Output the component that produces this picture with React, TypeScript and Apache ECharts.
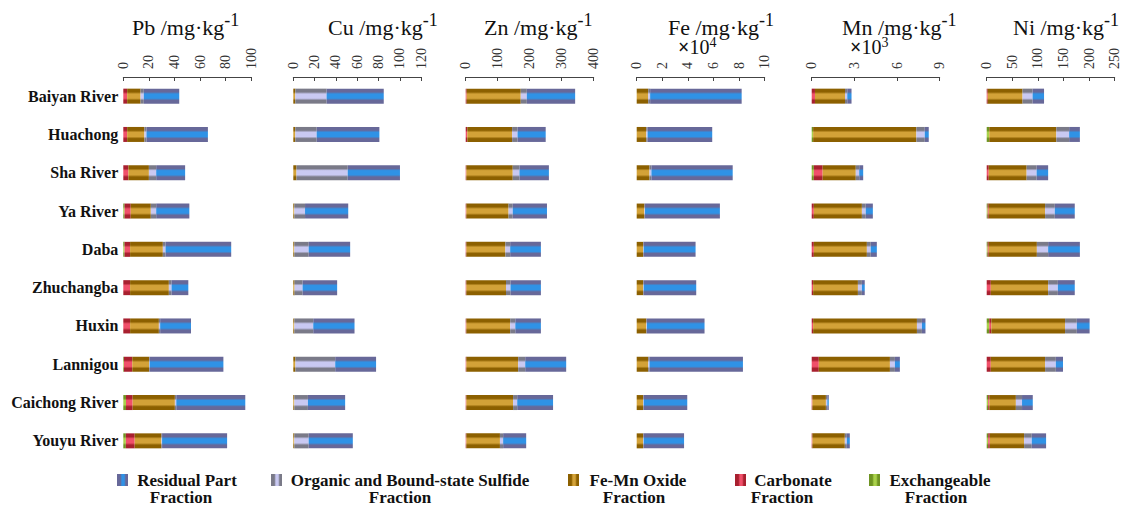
import React, { useEffect, useRef } from "react";
import * as echarts from "echarts";

const categories = [
  "Baiyan River", "Huachong", "Sha River", "Ya River", "Daba",
  "Zhuchangba", "Huxin", "Lannigou", "Caichong River", "Youyu River",
];

const fractionKeys = ["exch", "carb", "femn", "org", "res"];
const fractionNames = [
  "Exchangeable Fraction",
  "Carbonate Fraction",
  "Fe-Mn Oxide Fraction",
  "Organic and Bound-state Sulfide Fraction",
  "Residual Part Fraction",
];

const elements = ["Pb", "Cu", "Zn", "Fe", "Mn", "Ni"];
const axisMax = [100, 120, 400, 10, 9, 250];
const axisInterval = [20, 20, 100, 2, 3, 50];
const multipliers = ["", "", "", "4", "3", ""];

// Pb (mg/kg)
const pbExch = [0, 0, 0, 1, 1, 0, 0, 0.5, 2.1, 2];
const pbCarb = [3, 3, 4, 4.8, 4.3, 5.3, 5.3, 6.5, 5.2, 6.9];
const pbFeMn = [10.5, 13.5, 16, 15.7, 25.6, 30.3, 22.5, 13.1, 33, 20.9];
const pbOrg = [2.5, 1.6, 5.7, 4.2, 2.1, 2.1, 1, 0.5, 1.1, 0.5];
const pbRes = [27.7, 48, 22.6, 25.9, 51.3, 13.1, 24.1, 57.6, 53.9, 50.8];

// Cu (mg/kg)
const cuExch = [0, 0, 0, 0, 0, 0, 0, 0, 0, 0];
const cuCarb = [0, 0, 0, 0, 0, 0, 0, 0, 0, 0];
const cuFeMn = [1.9, 1.9, 3, 1, 1, 1.2, 1, 2, 1, 1];
const cuOrg = [29.3, 20, 48, 10, 13.4, 7.5, 17.7, 37.3, 12.7, 13.4];
const cuRes = [53.6, 58.8, 49, 40.5, 38.9, 32.4, 38.7, 38.3, 34.9, 41.4];

// Zn (mg/kg)
const znExch = [0, 0, 0, 0, 0, 0, 0, 0, 0, 0];
const znCarb = [3, 5, 2, 2, 2, 2, 2, 2, 2, 2];
const znFeMn = [169, 140, 145, 132, 122, 124, 137, 162, 146, 105];
const znOrg = [19, 17, 21, 13, 15, 14, 16, 22, 13, 10];
const znRes = [151, 88, 92, 107, 96, 95, 80, 128, 112, 72];

// Fe (x10^4 mg/kg)
const feExch = [0, 0, 0, 0, 0, 0, 0, 0, 0, 0];
const feCarb = [0, 0, 0, 0, 0, 0, 0, 0, 0, 0];
const feFeMn = [0.9, 0.75, 1.0, 0.6, 0.5, 0.5, 0.75, 0.9, 0.5, 0.5];
const feOrg = [0.15, 0.1, 0.15, 0.05, 0.05, 0.05, 0.05, 0.1, 0.05, 0.05];
const feRes = [7.15, 5.05, 6.35, 5.85, 4.05, 4.1, 4.5, 7.3, 3.4, 3.15];

// Mn (x10^3 mg/kg)
const mnExch = [0, 0.1, 0.15, 0, 0, 0, 0, 0, 0, 0];
const mnCarb = [0.23, 0, 0.62, 0.15, 0.15, 0.1, 0.1, 0.5, 0.05, 0.05];
const mnFeMn = [2.11, 7.26, 2.33, 3.38, 3.73, 3.15, 7.3, 5.0, 0.95, 2.28];
const mnOrg = [0.16, 0.59, 0.24, 0.27, 0.27, 0.28, 0.35, 0.35, 0.1, 0.14];
const mnRes = [0.3, 0.28, 0.28, 0.5, 0.43, 0.2, 0.25, 0.35, 0.1, 0.21];

// Ni (mg/kg)
const niExch = [0, 5, 0, 2, 2, 0, 5, 0, 3, 3];
const niCarb = [2, 0, 4, 2, 2, 8, 4, 8, 2, 3];
const niFeMn = [68, 131, 74, 110, 94, 112, 144, 106, 52, 67];
const niOrg = [19.6, 25, 19.5, 19, 22, 19, 23, 21, 12, 15];
const niRes = [22.4, 21, 22.5, 39, 62, 33, 25, 14, 21, 28];

const panelData = [
  [pbExch, pbCarb, pbFeMn, pbOrg, pbRes],
  [cuExch, cuCarb, cuFeMn, cuOrg, cuRes],
  [znExch, znCarb, znFeMn, znOrg, znRes],
  [feExch, feCarb, feFeMn, feOrg, feRes],
  [mnExch, mnCarb, mnFeMn, mnOrg, mnRes],
  [niExch, niCarb, niFeMn, niOrg, niRes],
];

// legend order as shown
const legendOrder = [4, 3, 2, 1, 0];
const legendLine1 = ["Residual Part", "Organic and Bound-state Sulfide", "Fe-Mn Oxide", "Carbonate", "Exchangeable"];
const legendLine2 = ["Fraction", "Fraction", "Fraction", "Fraction", "Fraction"];

const FONT = "'Liberation Serif', 'Times New Roman', serif";

// [edge, center]
const colorPairs = [
  ["#6f9422", "#a9d14a"], // exchangeable
  ["#a8202f", "#f0506a"], // carbonate
  ["#8c6000", "#d3a238"], // fe-mn
  ["#7a7a88", "#c9c9f2"], // organic
  ["#676899", "#2f92e6"], // residual
];

function vGrad(edge: string, center: string) {
  return new echarts.graphic.LinearGradient(0, 0, 0, 1, [
    { offset: 0, color: edge },
    { offset: 0.22, color: edge },
    { offset: 0.36, color: center },
    { offset: 0.64, color: center },
    { offset: 0.78, color: edge },
    { offset: 1, color: edge },
  ]);
}
function hGrad(edge: string, center: string) {
  return new echarts.graphic.LinearGradient(0, 0, 1, 0, [
    { offset: 0, color: edge },
    { offset: 0.3, color: edge },
    { offset: 0.45, color: center },
    { offset: 0.65, color: center },
    { offset: 0.8, color: edge },
    { offset: 1, color: edge },
  ]);
}

export default function App() {
  const ref = useRef<HTMLDivElement>(null);

  useEffect(() => {
    if (!ref.current) return;
    const chart = echarts.init(ref.current, undefined, { renderer: "svg" });

    const gridLeft = [123.3, 293.3, 465.7, 636.7, 811.7, 986.7];
    const gridWidth = 128;
    const titleLeft = [132, 328, 484, 668, 842, 1013];
    const multLeft = [0, 0, 0, 678, 850, 0];

    const grids = gridLeft.map((l) => ({ left: l, top: 77, width: gridWidth, height: 383 }));

    const xAxes = elements.map((_, i) => ({
      type: "value",
      gridIndex: i,
      position: "top",
      min: 0,
      max: axisMax[i],
      interval: axisInterval[i],
      axisLine: { show: true, lineStyle: { color: "#444", width: 1 } },
      axisTick: { show: true, inside: true, length: 4, lineStyle: { color: "#444" } },
      axisLabel: {
        rotate: -90,
        margin: 8,
        color: "#333",
        fontFamily: FONT,
        fontSize: 14,
      },
      splitLine: { show: false },
    }));

    const yAxes = elements.map((_, i) => ({
      type: "category",
      gridIndex: i,
      inverse: true,
      data: categories,
      axisLine: { show: false },
      axisTick: { show: false },
      axisLabel: {
        show: i === 0,
        margin: 5,
        color: "#111",
        fontFamily: FONT,
        fontSize: 16,
        fontWeight: "bold",
      },
    }));

    const series: any[] = [];
    elements.forEach((el, i) => {
      fractionKeys.forEach((k, f) => {
        series.push({
          type: "bar",
          name: fractionNames[f],
          xAxisIndex: i,
          yAxisIndex: i,
          stack: el,
          barWidth: 15,
          data: panelData[i][f],
          itemStyle: { color: vGrad(colorPairs[f][0], colorPairs[f][1]) },
        });
      });
    });

    const titles: any[] = [];
    elements.forEach((el, i) => {
      titles.push({
        text: `{m|${el} /mg·kg}{s|-1}`,
        left: titleLeft[i],
        top: 20,
        padding: 0,
        textStyle: {
          fontWeight: "normal",
          rich: {
            m: { fontFamily: FONT, fontSize: 22, fontWeight: "normal", color: "#111", lineHeight: 18, verticalAlign: "bottom" },
            s: { fontFamily: FONT, fontSize: 18, fontWeight: "normal", color: "#111", lineHeight: 14, padding: [0, 0, 9, 0], verticalAlign: "bottom" },
          },
        },
      });
      if (multipliers[i]) {
        titles.push({
          text: `{x|×}{n|10}{p|${multipliers[i]}}`,
          left: multLeft[i],
          top: 41,
          padding: 0,
          textStyle: {
            fontWeight: "normal",
            rich: {
              x: { fontFamily: FONT, fontSize: 20, fontWeight: "bold", color: "#111", lineHeight: 16, verticalAlign: "bottom" },
              n: { fontFamily: FONT, fontSize: 20, fontWeight: "normal", color: "#111", lineHeight: 16, verticalAlign: "bottom" },
              p: { fontFamily: FONT, fontSize: 14, fontWeight: "normal", color: "#111", lineHeight: 12, padding: [0, 0, 8, 0], verticalAlign: "bottom" },
            },
          },
        });
      }
    });

    const iconX = [117, 271, 568, 735, 869];
    const line1X = [187, 410, 638, 793, 940];
    const line2X = [181, 400, 634, 782, 936];
    const graphics: any[] = [];
    legendOrder.forEach((f, j) => {
      graphics.push({
        type: "rect",
        shape: { x: iconX[j], y: 474, width: 11, height: 12 },
        style: { fill: hGrad(colorPairs[f][0], colorPairs[f][1]) },
      });
      graphics.push({
        type: "text",
        x: line1X[j],
        y: 480,
        style: {
          text: legendLine1[j],
          align: "center",
          verticalAlign: "middle",
          font: `bold 17px ${FONT}`,
          fill: "#111",
        },
      });
      graphics.push({
        type: "text",
        x: line2X[j],
        y: 497,
        style: {
          text: legendLine2[j],
          align: "center",
          verticalAlign: "middle",
          font: `bold 17px ${FONT}`,
          fill: "#111",
        },
      });
    });

    chart.setOption({
      animation: false,
      backgroundColor: "#ffffff",
      title: titles,
      grid: grids,
      xAxis: xAxes,
      yAxis: yAxes,
      series,
      graphic: graphics,
    });

    return () => chart.dispose();
  }, []);

  return (
    <div
      ref={ref}
      style={{ position: "absolute", left: 0, top: 0, width: 1130, height: 506 }}
    />
  );
}
